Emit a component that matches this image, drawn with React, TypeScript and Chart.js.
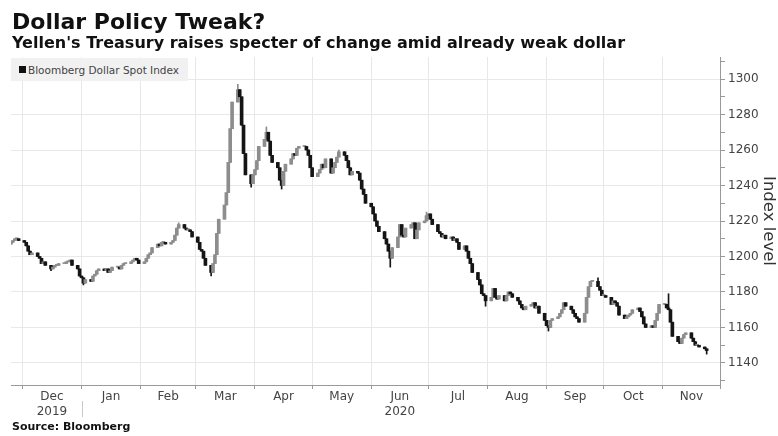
import React, { useEffect, useRef } from 'react';
import { Chart, registerables } from 'chart.js';

Chart.register(...registerables);

// ---------- text ----------
const titleText = 'Dollar Policy Tweak?';
const subtitleText = "Yellen's Treasury raises specter of change amid already weak dollar";
const sourceText = 'Source: Bloomberg';
const seriesName = 'Bloomberg Dollar Spot Index';
const yAxisTitle = 'Index level';

// ---------- axis labels ----------
const monthNames = ['Dec', 'Jan', 'Feb', 'Mar', 'Apr', 'May', 'Jun', 'Jul', 'Aug', 'Sep', 'Oct', 'Nov'];
const monthStartDates = [
  '2019-12-01', '2020-01-01', '2020-02-01', '2020-03-01', '2020-04-01', '2020-05-01',
  '2020-06-01', '2020-07-01', '2020-08-01', '2020-09-01', '2020-10-01', '2020-11-01', '2020-12-01',
];
const yearUnderMonth: Record<string, string> = { Dec: '2019', Jun: '2020' };
const yearBreakDate = '2020-01-01';
const yMin = 1127.6;
const yMax = 1312.4;
const xMinDate = '2019-11-25';
const xMaxDate = '2020-12-01';

// ---------- daily closes (trading days) ----------
const firstOpen = 1207;
const nov2019 = [1208, 1209, 1210, 1210, 1209];
const dec2019 = [1208, 1206, 1203, 1201, 1202, 1200, 1199, 1196, 1197, 1195, 1193, 1194, 1195, 1195, 1196, 1196, 1197, 1197, 1198, 1195, 1193, 1189];
const jan2020 = [1188, 1185, 1187, 1186, 1189, 1190, 1192, 1193, 1192, 1193, 1191, 1192, 1194, 1194, 1193, 1195, 1196, 1196, 1197, 1198, 1199, 1198, 1196];
const feb2020 = [1197, 1199, 1201, 1202, 1205, 1207, 1206, 1208, 1208, 1207, 1208, 1209, 1212, 1216, 1218, 1216, 1215, 1215, 1214, 1211];
const mar2020 = [1208, 1204, 1203, 1199, 1195, 1191, 1196, 1201, 1213, 1221, 1229, 1236, 1253, 1272, 1287, 1294, 1290, 1274, 1258, 1246, 1241, 1246];
const apr2020 = [1249, 1254, 1262, 1266, 1270, 1265, 1257, 1253, 1250, 1243, 1240, 1248, 1252, 1255, 1258, 1257, 1261, 1262, 1262, 1260, 1257, 1250];
const may2020 = [1245, 1247, 1249, 1252, 1250, 1255, 1247, 1250, 1253, 1256, 1259, 1257, 1254, 1250, 1246, 1248, 1247, 1243, 1238, 1235, 1230];
const jun2020 = [1228, 1224, 1220, 1217, 1214, 1210, 1207, 1203, 1199, 1205, 1211, 1218, 1212, 1211, 1216, 1218, 1219, 1210, 1215, 1219, 1220, 1223];
const jul2020 = [1224, 1221, 1218, 1214, 1213, 1211, 1212, 1210, 1211, 1209, 1210, 1208, 1204, 1206, 1203, 1199, 1196, 1191, 1187, 1184, 1179, 1178, 1175];
const aug2020 = [1177, 1182, 1177, 1176, 1178, 1175, 1178, 1180, 1179, 1177, 1175, 1173, 1171, 1170, 1172, 1173, 1174, 1171, 1172, 1168, 1164];
const sep2020 = [1161, 1160, 1164, 1165, 1166, 1168, 1170, 1174, 1172, 1170, 1168, 1166, 1165, 1163, 1168, 1177, 1183, 1186, 1186, 1183, 1181, 1178];
const oct2020 = [1178, 1177, 1173, 1175, 1174, 1172, 1167, 1165, 1166, 1167, 1168, 1170, 1171, 1169, 1166, 1162, 1160, 1161, 1160, 1164, 1168, 1173];
const nov2020 = [1173, 1171, 1170, 1163, 1155, 1152, 1151, 1154, 1156, 1157, 1154, 1152, 1150, 1150, 1149, 1148, 1147];

// first trading day of each block of closes
const blockStarts = [
  '2019-11-25', '2019-12-02', '2020-01-01', '2020-02-03', '2020-03-02', '2020-04-01', '2020-05-01',
  '2020-06-01', '2020-07-01', '2020-08-03', '2020-09-01', '2020-10-01', '2020-11-02',
];
const blocks = [nov2019, dec2019, jan2020, feb2020, mar2020, apr2020, may2020, jun2020, jul2020, aug2020, sep2020, oct2020, nov2020];

// notable wick extremes
const wickHighs: [string, number][] = [
  ['2020-02-21', 1219], ['2020-03-23', 1297], ['2020-04-07', 1273], ['2020-05-15', 1260],
  ['2020-06-30', 1225], ['2020-09-28', 1188], ['2020-11-04', 1179],
];
const wickLows: [string, number][] = [
  ['2019-12-16', 1192], ['2020-01-02', 1184], ['2020-03-09', 1189], ['2020-03-30', 1239],
  ['2020-04-15', 1238], ['2020-06-11', 1194], ['2020-07-31', 1172], ['2020-09-02', 1158],
  ['2020-11-24', 1145],
];

const upColor = '#8d8d8d';
const downColor = '#151515';

// ---------- helpers ----------
const DAY = 86400000;
const ORIGIN = Date.UTC(2019, 11, 1);
const parse = (s: string) => {
  const [y, m, d] = s.split('-').map(Number);
  return Date.UTC(y, m - 1, d);
};
const toDay = (s: string) => Math.round((parse(s) - ORIGIN) / DAY);
const iso = (t: number) => new Date(t).toISOString().slice(0, 10);

function tradingDays(start: string, n: number): string[] {
  const out: string[] = [];
  let t = parse(start);
  while (out.length < n) {
    const wd = new Date(t).getUTCDay();
    if (wd !== 0 && wd !== 6) out.push(iso(t));
    t += DAY;
  }
  return out;
}

function buildCandles() {
  const hi = new Map(wickHighs);
  const lo = new Map(wickLows);
  const candles: { x: number; o: number; c: number; h: number; l: number }[] = [];
  let prev = firstOpen;
  blocks.forEach((closes, bi) => {
    const dates = tradingDays(blockStarts[bi], closes.length);
    closes.forEach((c, i) => {
      const d = dates[i];
      const o = prev;
      const h = Math.max(o, c, hi.get(d) ?? -Infinity);
      const l = Math.min(o, c, lo.get(d) ?? Infinity);
      candles.push({ x: toDay(d), o, c, h, l });
      prev = c;
    });
  });
  return candles;
}

const yearBreakPlugin = {
  id: 'yearBreak',
  afterDraw(chart: any) {
    const xs = chart.scales.x;
    const ctx = chart.ctx;
    const px = Math.round(xs.getPixelForValue(toDay(yearBreakDate))) + 0.5;
    ctx.save();
    ctx.strokeStyle = '#c8c8c8';
    ctx.lineWidth = 1;
    ctx.beginPath();
    ctx.moveTo(px, 401);
    ctx.lineTo(px, 417);
    ctx.stroke();
    ctx.restore();
  },
};

export default function App() {
  const ref = useRef<HTMLCanvasElement | null>(null);

  useEffect(() => {
    if (!ref.current) return;
    const candles = buildCandles();
    const colors = candles.map((k) => (k.c >= k.o ? upColor : downColor));
    const monthStarts = monthStartDates.map(toDay);
    const monthMids = monthNames.map((_, i) => (monthStarts[i] + monthStarts[i + 1]) / 2);

    Chart.defaults.font.family = "'DejaVu Sans', sans-serif";

    const chart = new Chart(ref.current, {
      type: 'bar',
      data: {
        datasets: [
          {
            label: 'wick',
            data: candles.map((k) => ({ x: k.x, y: [k.l, k.h] })) as any,
            backgroundColor: colors,
            barThickness: 1,
            grouped: false,
            order: 2,
          },
          {
            label: seriesName,
            data: candles.map((k) => ({ x: k.x, y: [Math.min(k.o, k.c), Math.max(k.o, k.c)] })) as any,
            backgroundColor: colors,
            barThickness: 3,
            minBarLength: 1,
            grouped: false,
            order: 1,
          },
        ],
      },
      options: {
        animation: false,
        responsive: false,
        devicePixelRatio: 1,
        layout: { padding: { left: 11, top: 57, right: 0, bottom: 11 } },
        plugins: { legend: { display: false }, tooltip: { enabled: false } },
        scales: {
          x: {
            type: 'linear',
            position: 'bottom',
            min: toDay(xMinDate),
            max: toDay(xMaxDate),
            offset: false,
            grid: { color: '#e8e8e8', tickColor: '#9a9a9a', tickLength: 4, offset: false },
            border: { display: true, color: '#9a9a9a' },
            ticks: { display: false },
            afterBuildTicks: (s: any) => {
              s.ticks = monthStarts.map((v) => ({ value: v }));
            },
            afterFit: (s: any) => {
              s.height = 4;
            },
          },
          x2: {
            type: 'linear',
            position: 'bottom',
            min: toDay(xMinDate),
            max: toDay(xMaxDate),
            offset: false,
            grid: { display: false, drawTicks: false },
            border: { display: false },
            ticks: {
              autoSkip: false,
              maxRotation: 0,
              padding: 0,
              color: '#444',
              font: { size: 12, lineHeight: 1.25 },
              callback: (v: any) => {
                const i = monthMids.indexOf(Number(v));
                if (i < 0) return '';
                const m = monthNames[i];
                return yearUnderMonth[m] ? [m, yearUnderMonth[m]] : m;
              },
            },
            afterBuildTicks: (s: any) => {
              s.ticks = monthMids.map((v) => ({ value: v }));
            },
            afterFit: (s: any) => {
              s.height = 36;
            },
          },
          y: {
            type: 'linear',
            position: 'right',
            min: yMin,
            max: yMax,
            ticks: {
              stepSize: 10,
              includeBounds: false,
              autoSkip: false,
              color: '#444',
              padding: 3,
              font: { size: 12 },
              callback: (v: any) => (Number(v) % 20 === 0 ? String(v) : ''),
            },
            grid: {
              color: (c: any) => (c.tick && c.tick.value % 20 === 0 ? '#e8e8e8' : 'rgba(0,0,0,0)'),
              tickColor: '#9a9a9a',
              tickLength: 5,
            },
            border: { color: '#9a9a9a' },
            title: { display: true, text: yAxisTitle, color: '#333', font: { size: 16.5 }, padding: 0 },
            afterFit: (s: any) => {
              s.width = 58;
            },
          },
        },
      } as any,
      plugins: [yearBreakPlugin],
    });
    return () => chart.destroy();
  }, []);

  const bold = "'DejaVu Sans', sans-serif";
  return (
    <div style={{ position: 'fixed', left: 0, top: 0, width: 778, height: 436, background: '#fff', overflow: 'hidden' }}>
      <canvas ref={ref} width={778} height={436} style={{ position: 'absolute', left: 0, top: 0, width: 778, height: 436 }} />
      <div style={{ position: 'absolute', left: 12, top: 11, fontFamily: bold, fontWeight: 'bold', fontSize: 22, lineHeight: '22px', color: '#111', whiteSpace: 'nowrap' }}>
        {titleText}
      </div>
      <div style={{ position: 'absolute', left: 12, top: 35, fontFamily: bold, fontWeight: 'bold', fontSize: 16, lineHeight: '16px', color: '#111', whiteSpace: 'nowrap' }}>
        {subtitleText}
      </div>
      <div style={{ position: 'absolute', left: 11, top: 58, width: 177, height: 23, background: '#f1f1f1', display: 'flex', alignItems: 'center', whiteSpace: 'nowrap' }}>
        <span style={{ display: 'inline-block', width: 7, height: 7, background: '#111', marginLeft: 8, marginRight: 2 }} />
        <span style={{ fontFamily: bold, fontSize: 10.5, color: '#444' }}>{seriesName}</span>
      </div>
      <div style={{ position: 'absolute', left: 12, top: 421, fontFamily: bold, fontWeight: 'bold', fontSize: 11, lineHeight: '11px', color: '#111', whiteSpace: 'nowrap' }}>
        {sourceText}
      </div>
    </div>
  );
}
